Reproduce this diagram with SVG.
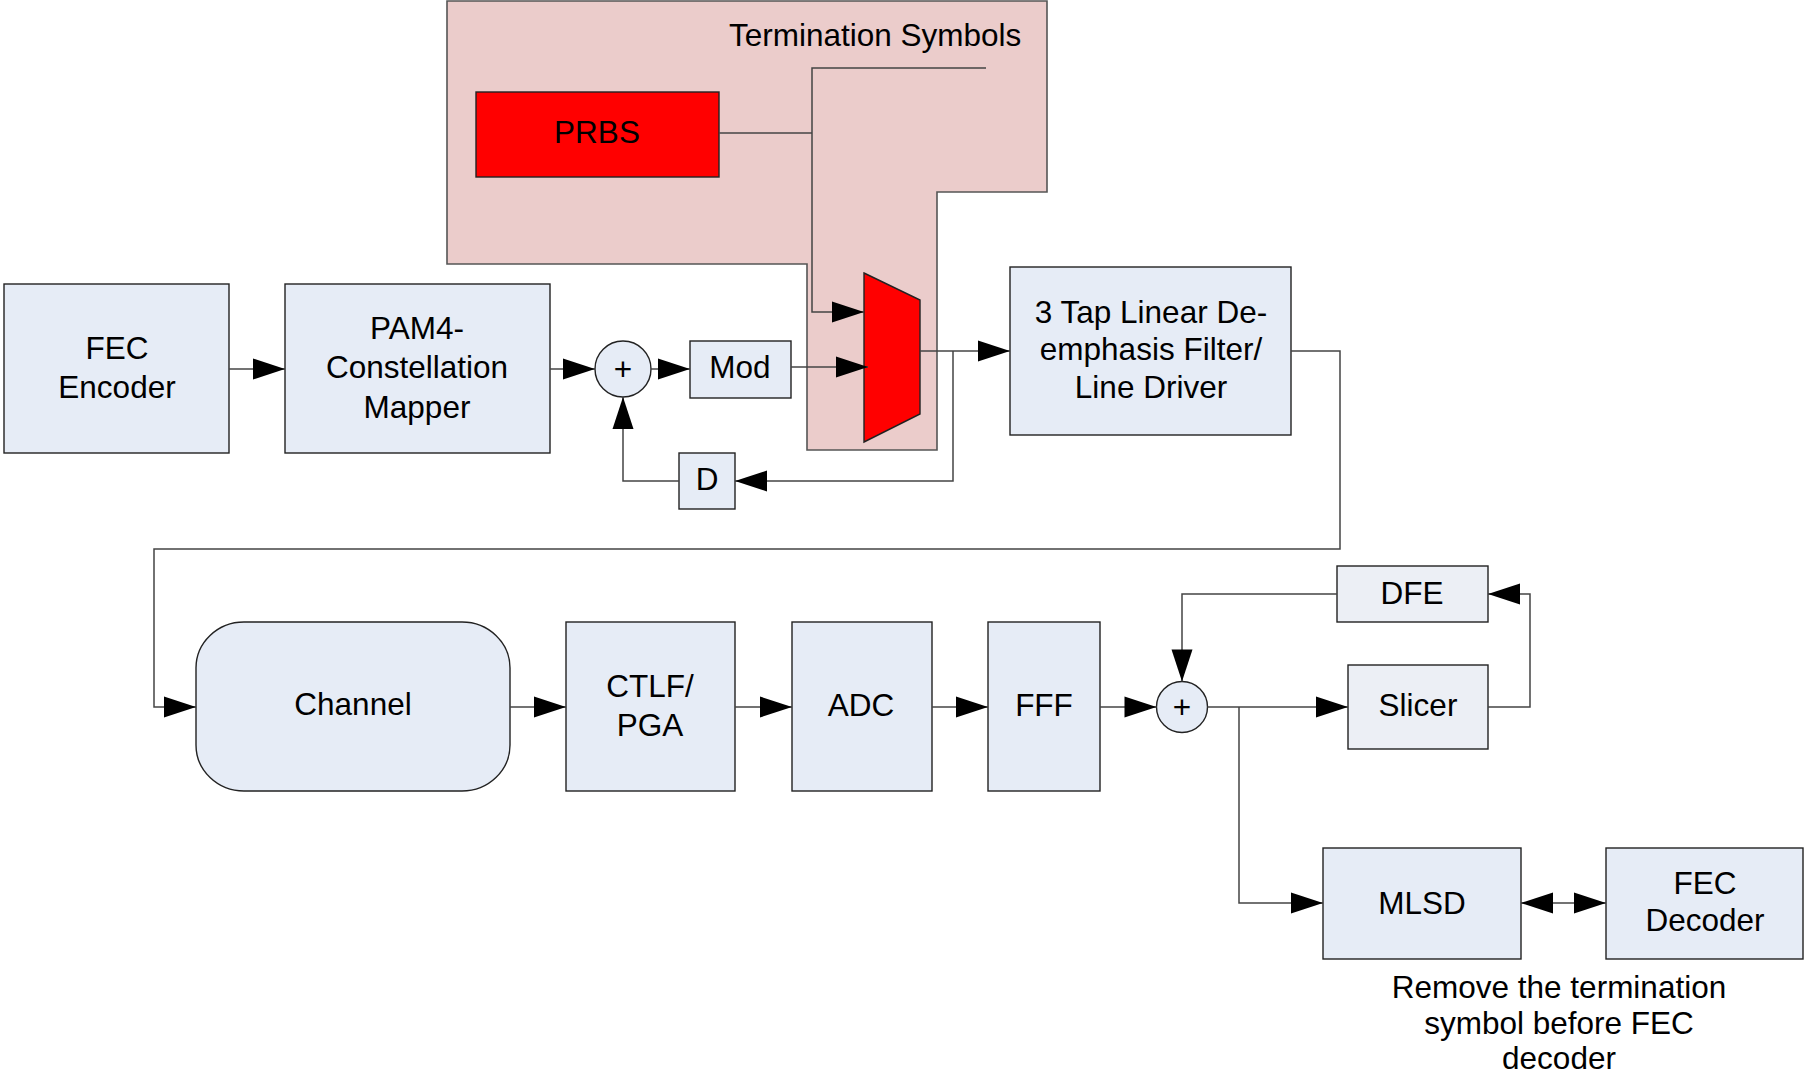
<svg xmlns="http://www.w3.org/2000/svg" width="1806" height="1079" viewBox="0 0 1806 1079">
  <defs>
    <marker id="arrow" markerUnits="userSpaceOnUse" markerWidth="32" markerHeight="21" refX="32" refY="10.5" orient="auto-start-reverse" overflow="visible">
      <path d="M0,0 L32,10.5 L0,21 Z" fill="#000"/>
    </marker>
    <style>
      .box { fill: #E6ECF6; stroke: #222; stroke-width: 1.4; }
      .box2 { fill: #ECEFF5; stroke: #222; stroke-width: 1.4; }
      .red { fill: #FF0000; stroke: #222; stroke-width: 1.4; }
      .zone { fill: #EBCCCB; stroke: #555; stroke-width: 1.6; }
      .wire { fill: none; stroke: #444; stroke-width: 1.5; }
      .arr { marker-end: url(#arrow); }
      text { font-family: "Liberation Sans", Arial, sans-serif; font-size: 31.5px; fill: #000; text-anchor: middle; }
    </style>
  </defs>
  <rect width="1806" height="1079" fill="#fff"/>

  <!-- termination symbol generator region -->
  <g id="termination-zone">
    <polygon class="zone" points="447,1 1047,1 1047,192 937,192 937,450 807,450 807,264 447,264"/>
    <text x="729" y="46" style="text-anchor:start">Termination Symbols</text>
  </g>

  <g id="prbs">
    <rect class="red" x="476" y="92" width="243" height="85"/>
    <text x="597" y="143">PRBS</text>
  </g>

  <g id="mux">
    <polygon class="red" points="864,273 920,300 920,414 864,442"/>
  </g>

  <g id="fec-encoder">
    <rect class="box" x="4" y="284" width="225" height="169"/>
    <text x="117" y="359">FEC</text>
    <text x="117" y="398">Encoder</text>
  </g>

  <g id="pam4-mapper">
    <rect class="box" x="285" y="284" width="265" height="169"/>
    <text x="417" y="339">PAM4-</text>
    <text x="417" y="378">Constellation</text>
    <text x="417" y="418">Mapper</text>
  </g>

  <g id="tx-sum">
    <circle class="box" cx="623" cy="369" r="28"/>
    <text x="623" y="380">+</text>
  </g>

  <g id="mod">
    <rect class="box" x="690" y="341" width="101" height="57"/>
    <text x="740" y="378">Mod</text>
  </g>

  <g id="delay">
    <rect class="box" x="679" y="453" width="56" height="56"/>
    <text x="707" y="490">D</text>
  </g>

  <g id="line-driver">
    <rect class="box" x="1010" y="267" width="281" height="168"/>
    <text x="1151" y="323">3 Tap Linear De-</text>
    <text x="1151" y="360">emphasis Filter/</text>
    <text x="1151" y="398">Line Driver</text>
  </g>

  <g id="channel">
    <rect class="box" x="196" y="622" width="314" height="169" rx="48" ry="46"/>
    <text x="353" y="715">Channel</text>
  </g>

  <g id="ctlf-pga">
    <rect class="box" x="566" y="622" width="169" height="169"/>
    <text x="650" y="697">CTLF/</text>
    <text x="650" y="736">PGA</text>
  </g>

  <g id="adc">
    <rect class="box" x="792" y="622" width="140" height="169"/>
    <text x="861" y="716">ADC</text>
  </g>

  <g id="fff">
    <rect class="box" x="988" y="622" width="112" height="169"/>
    <text x="1044" y="716">FFF</text>
  </g>

  <g id="rx-sum">
    <circle class="box" cx="1182" cy="707" r="25.5"/>
    <text x="1182" y="718">+</text>
  </g>

  <g id="dfe">
    <rect class="box2" x="1337" y="566" width="151" height="56"/>
    <text x="1412" y="604">DFE</text>
  </g>

  <g id="slicer">
    <rect class="box2" x="1348" y="665" width="140" height="84"/>
    <text x="1418" y="716">Slicer</text>
  </g>

  <g id="mlsd">
    <rect class="box" x="1323" y="848" width="198" height="111"/>
    <text x="1422" y="914">MLSD</text>
  </g>

  <g id="fec-decoder">
    <rect class="box" x="1606" y="848" width="197" height="111"/>
    <text x="1705" y="894">FEC</text>
    <text x="1705" y="931">Decoder</text>
  </g>

  <g id="note">
    <text x="1559" y="998">Remove the termination</text>
    <text x="1559" y="1034">symbol before FEC</text>
    <text x="1559" y="1069">decoder</text>
  </g>

  <g id="connectors">
    <path class="wire arr" d="M229,369 H285"/>
    <path class="wire arr" d="M550,369 H595"/>
    <path class="wire arr" d="M651,369 H690"/>
    <path class="wire arr" d="M791,367 H868"/>
    <path class="wire" d="M719,133 H812"/>
    <path class="wire arr" d="M986,68 H812 V312 H864"/>
    <path class="wire arr" d="M920,351 H1010"/>
    <path class="wire arr" d="M953,351 V481 H735"/>
    <path class="wire arr" d="M679,481 H623 V397"/>
    <path class="wire arr" d="M1291,351 H1340 V549 H154 V707 H196"/>
    <path class="wire arr" d="M510,707 H566"/>
    <path class="wire arr" d="M735,707 H792"/>
    <path class="wire arr" d="M932,707 H988"/>
    <path class="wire arr" d="M1100,707 H1156.5"/>
    <path class="wire arr" d="M1207.5,707 H1348"/>
    <path class="wire arr" d="M1239,707 V903 H1323"/>
    <path class="wire arr" d="M1488,707 H1530 V594 H1488"/>
    <path class="wire arr" d="M1337,594 H1182 V681.5"/>
    <path class="wire arr" style="marker-start:url(#arrow)" d="M1521,903 H1606"/>
  </g>
</svg>
